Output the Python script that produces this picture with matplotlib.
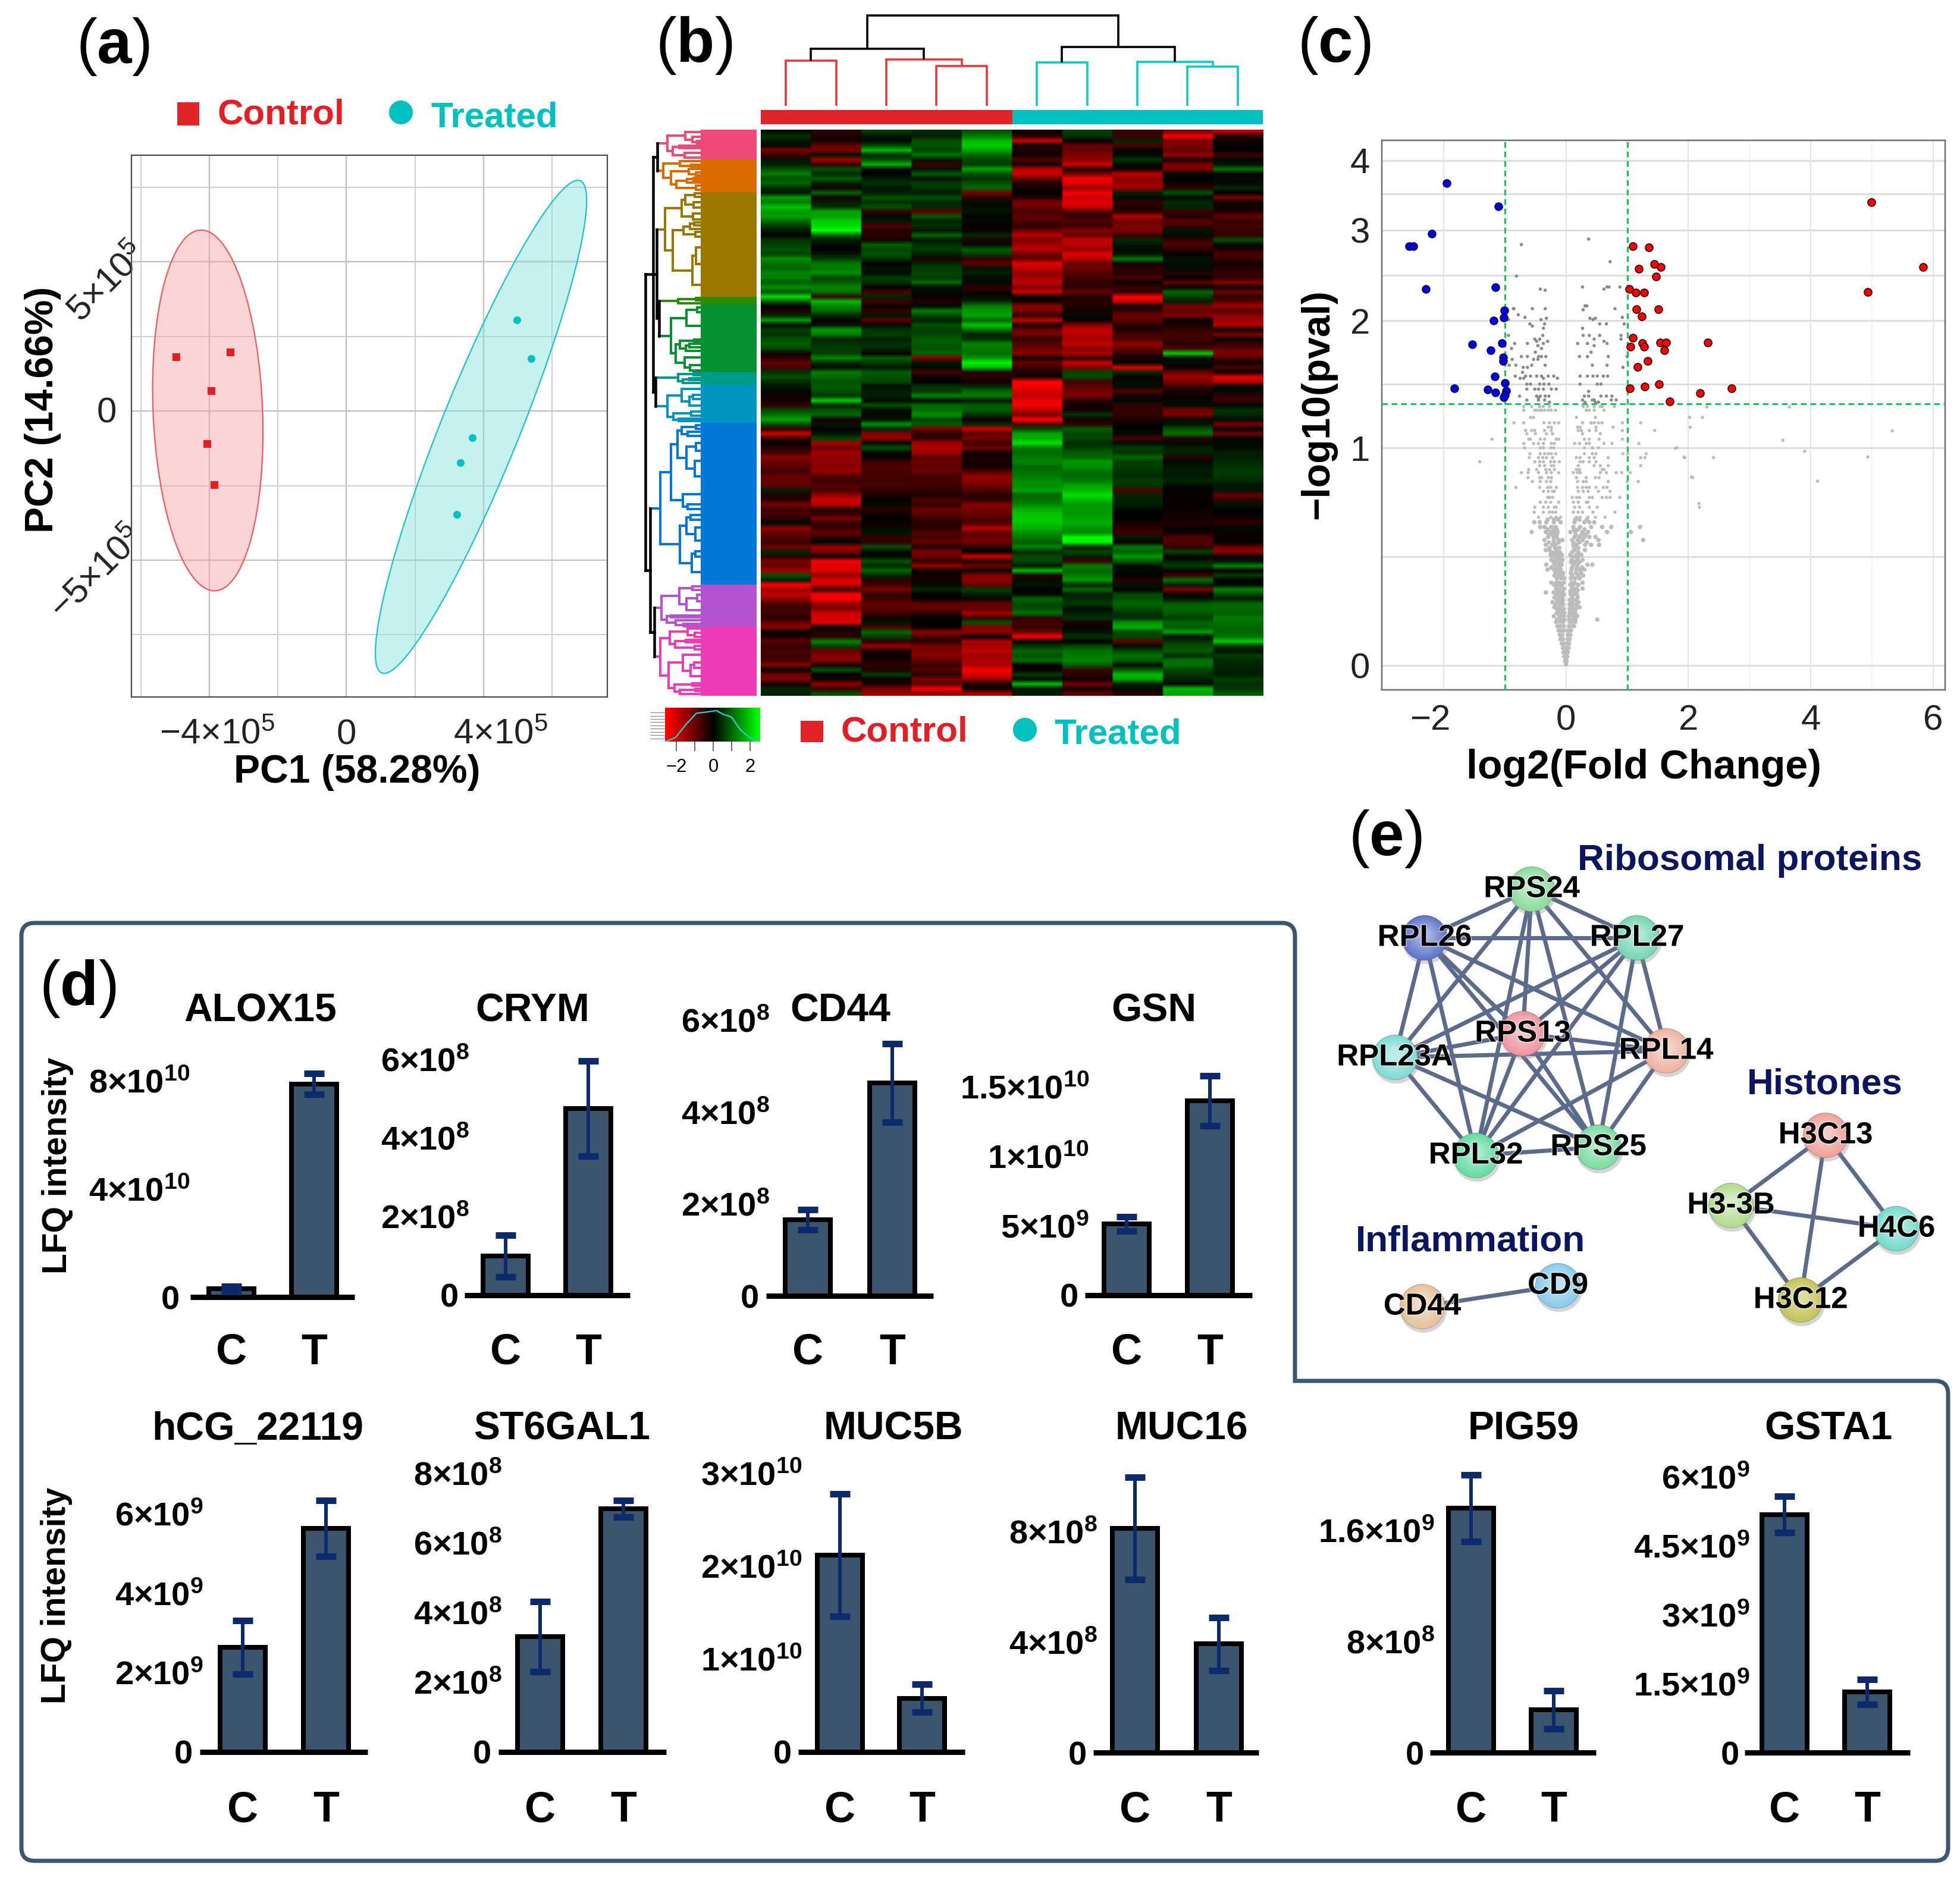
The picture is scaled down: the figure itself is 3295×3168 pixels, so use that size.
import itertools
import numpy as np
import matplotlib
matplotlib.use("Agg")
import matplotlib.pyplot as plt
from matplotlib.colors import LinearSegmentedColormap, to_rgb
from matplotlib.collections import LineCollection
from matplotlib.patches import Rectangle, Circle, PathPatch
from matplotlib.path import Path
from matplotlib.transforms import Affine2D
import matplotlib.patheffects as pe

plt.rcParams['font.family'] = ['Liberation Sans', 'DejaVu Sans']
plt.rcParams['mathtext.fontset'] = 'custom'
plt.rcParams['mathtext.rm'] = 'Liberation Sans'
plt.rcParams['mathtext.bf'] = 'Liberation Sans:bold'
plt.rcParams['mathtext.it'] = 'Liberation Sans:italic'
plt.rcParams['mathtext.default'] = 'regular'

W, H = 3295, 3168
RED, TEAL = '#e31e24', '#00c0c0'
NAVY = '#0b1560'

# ---------- (a) PCA ----------
pca_control_x = [-4.98e5, -3.39e5, -3.96e5, -4.07e5, -3.87e5]
pca_control_y = [1.81e5, 1.98e5, 0.69e5, -1.09e5, -2.46e5]
pca_treated_x = [4.98e5, 5.40e5, 3.68e5, 3.33e5, 3.22e5]
pca_treated_y = [3.06e5, 1.76e5, -0.89e5, -1.74e5, -3.47e5]
ellipse_control = dict(c=(-4.05e5, 0.02e5), a=(-0.195e5, 6.05e5), b=(1.6e5, 0.0))
ellipse_treated = dict(c=(3.93e5, -0.53e5), a=(2.83e5, 8.27e5), b=(1.23e5, 0.0))

# ---------- (b) heatmap: z-scores, green positive, red negative ----------
heatmap_upper = [
 [.1,-.4,.6,.4,.8,-.1,.6,-.5,-1.2,-1.8],[.5,-.3,.2,.3,1.2,-.4,.5,-.6,-2.4,-.4],
 [.2,-.2,.1,.8,1.8,-2,-.1,.4,-1.2,-.1],[.1,-1,.7,.8,2,-.1,-1,-.8,-1.2,-.1],
 [-1.2,-1.2,1.8,.7,1.6,-.3,-1,0,-1,0],[-.6,.2,.4,1.1,1,-.2,-1.2,.1,-1.5,-.6],
 [.2,-1.6,.8,.2,.7,-.8,-1.4,.5,-.2,.1],[.3,-.5,1.7,-.6,.6,-.2,-2,.1,-1.2,.2],
 [.8,.8,.1,.2,1.6,-1.8,-.3,-.2,-1.2,1.1],[1.2,.4,0,.9,.8,-2,-1.2,-1.8,.1,-.1],
 [.8,.9,.3,.2,.5,-1,-2.4,-1.4,0,.1],[1,.3,.5,.6,.8,-.3,-2.2,-1.5,-.2,.1],
 [.4,-.2,.2,.5,1,-.2,-1.5,-1.6,-.4,.4],[.2,1,.3,.3,-1.1,0,-2.4,.3,.8,0],
 [1.5,-.3,.8,.8,-.5,-.3,-2,.1,.1,-1.2],[1.2,.3,.5,.4,.1,-1.2,-2.2,-.5,.4,-.1],
 [1.9,.5,.8,.4,.1,-1,-2,-.3,.4,-.2],[1.5,1.6,-.5,-.9,.2,-.7,-.8,-.4,-.6,-.3],
 [1.6,1.6,.1,.9,0,-.9,-.5,-1.8,-.3,-1],[1,2,.2,.3,.1,-.8,-.8,-1,-.9,-.5],
 [.6,2.1,-.8,.5,-.1,-.4,-.6,-1.2,-.6,-.7],[.2,2.5,-.3,.2,-.1,-1.1,-1.3,-1.2,.2,-.5],
 [-.1,.9,-.4,1,.4,-1.8,-1,-.6,.1,-.5],[.5,.3,-.2,.2,-.3,-1.2,-1.9,.4,-.5,.8],
 [.6,.1,.9,.5,.1,-1.6,-1.8,.2,-.8,.1],[.8,0,.7,.6,.9,-1.8,-1.5,.1,-.4,-.3],
 [.7,.2,.8,.3,.6,-1,-2.2,.2,-.1,-.8],[1.4,.6,.5,-.3,-.5,-1,-1.8,1.2,.2,-.5],
 [1.1,1.2,-.1,.4,-.9,-2.2,-1,-.2,.1,-.2],[1,1.2,.2,.6,.2,-1.9,-1.1,-.4,.1,-.4],
 [1.3,1.4,.1,.7,.3,-1.4,-.8,-.4,-.4,-.5],[1.2,.7,.6,.6,.1,-1.6,-.7,-.7,-.1,-.5],
 [.9,.9,.5,1,.1,-1.9,-.5,-.1,-.9,-1.3],[1.4,1.3,-.1,.1,-.5,-1.2,-.5,-.6,-.1,-.1],
 [.8,1.1,-.7,.1,-.2,-2,-1,-.5,1,-1.1],[2.2,-.6,.4,-.1,.1,-.1,-.3,-2.4,.6,-.4],
 [.9,1.8,-.6,-.3,.4,-.2,-.4,-2,.3,-.9],[0,1.3,-.1,.1,1.2,-1.3,-.3,-.1,-1.2,-1.6],
 [-.3,1,-.5,1.2,1.5,-1.2,-.2,-.6,-1,-.8],[.4,.4,.2,.7,1.6,-.5,.1,-1,-1.2,-1.4],
 [1.5,-.1,-.9,.3,1,-1.9,-.1,-.9,-.1,-1.6],[.1,.2,.1,.8,1.9,-.2,-1.3,-.4,-.3,-1.7],
 [.6,1.5,.5,.6,1.1,-1,-1.9,-.3,-.5,-.2],[.5,1.2,.6,.7,.3,-1.2,-1.8,-.7,-.7,-1.2],
 [.8,.3,.3,.9,.5,-.4,-1.6,-.8,-.6,-.1],[.9,.5,.5,.9,1.3,-.9,-1.9,-1.4,-.4,-.5],
 [.7,.6,.4,.8,1.2,-1,-1.3,-1,-.8,-.9],[-.2,.6,-.1,1,1.1,-1.4,-1.7,-.5,2,-1.3],
 [-.4,1.3,.9,-1.3,1.5,-.2,-.5,-.2,.1,-.7],[-1,.4,.6,.2,2.4,-1,-1.9,.1,.1,-.2],
 [-.7,.1,.2,.1,1.8,-.6,-1.3,-2.2,-.1,-.7],[.5,1.2,.9,-.7,-.4,-.3,.7,.4,-1,-.1],
 [.8,1,.8,-.1,-.4,-.2,.7,-.1,-1.6,-2.2],[.4,.8,.7,-.1,-.2,-2.5,-.7,.1,-1.2,-1.8],
 [.2,.9,.1,.5,.4,-2.4,-.9,.1,-.6,0],[.1,.8,.3,.6,1,-2.1,-1.1,-.8,-.2,.1],
 [-.2,.5,.3,1.3,1.2,-1.9,-1.2,-.2,-.1,-.5],[-.2,2,.1,.1,.2,-2.3,-.4,.1,.1,-.6],
 [-.5,.3,.8,1,.9,-2.4,-.2,-.5,.1,.1],[.7,.8,.1,1.1,.9,-1.8,-.2,-.5,-1.1,.5],
]
heatmap_lower = [
 [1.1,1,.1,1.4,.5,-1.2,.5,-.5,-1.2,.4],[1.6,-.3,.2,.7,-.2,-2.5,-.2,-.3,.1,.1],
 [.8,.2,1.4,.9,.4,-.8,-.5,-.1,.2,-1.2],[-.5,-.1,.4,-1.2,-2,.7,.9,0,.8,-.1],
 [-2,.2,-1.3,-.4,-.8,1.6,.7,.1,1.1,-1.1],[-.5,.7,-1.4,-.5,-1.2,1.7,.7,-.8,-.4,0],
 [-.1,-1.6,.1,-1.6,-.6,2.2,.4,.1,.1,.1],[-.4,-1,.8,-1.7,-1.1,1.2,.6,.6,.3,.1],
 [-.7,-1.6,.1,-1.6,-.2,1,.9,.5,.4,.3],[-1.4,-1.4,-.1,-.9,-.2,1.2,1,1,-.4,.3],
 [-1,-1.4,-.6,-1,-.2,1.3,1.5,.6,.1,.4],[-.9,-1.3,-.8,-.9,-.2,1,1.4,.6,.2,.5],
 [-.6,-1.5,-.7,-1,-.8,1.1,1.1,.5,.3,.6],[-1,-.8,-.7,-.7,-1.4,1.2,1,.4,.2,.5],
 [-1,-.6,-.6,-.7,-1.4,1.4,1.2,.6,.4,.4],[-.9,-.8,-.7,-.6,-1,1.4,1.6,.5,.1,.2],
 [.3,-.7,-.5,-.5,-.8,1.6,1.8,-.8,0,.2],[-.3,-1.4,-.3,-.3,-.4,1,2.2,.4,-.1,-1],
 [-.4,-2,0,-.8,-.5,1.1,1.8,.3,-.1,-.5],[-1.2,-1.8,.1,-.5,-1.3,1.3,1.5,.3,-.1,.2],
 [-.6,-.4,-.4,-1,-1.2,1.7,1.5,.1,-.1,0],[-.7,-.5,-.2,-.9,-1,1.9,1.5,0,-.2,0],
 [-.4,-1.2,0,-.5,-.7,2,1.6,0,-.2,-.3],[.1,-.5,-.2,-.4,-.8,1.9,1.7,-.3,-.3,-.4],
 [-1.4,-.6,.1,-.4,-1.8,1.7,1.4,-.4,-.1,.1],[-1,-1,.2,-.8,-1,1.4,1.4,-.6,-.2,-.1],
 [-.8,-.4,-.5,-.7,-1,1.2,2.5,.2,-.8,-.1],[-.6,.1,-.5,-1,-1.1,.9,2.4,-.1,-.8,0],
 [-1.1,-1.5,.8,-.3,-.4,1.3,.3,1.2,-.5,-1],[.4,-1.2,.1,-1.2,-.1,.4,.7,.9,.7,-1.4],
 [-.4,-.1,.1,-1,-2,.7,.3,1.5,-.1,-.1],[-1.2,-2.4,.8,-.5,-.4,.7,-.6,.9,.3,.2],
 [-1,-2.2,.4,-1.5,-1,.2,1.2,.1,.6,1.3],[-1.6,-2.2,1,-.1,-.2,1.8,1,.1,-.1,-.2],
 [.8,-1.4,.4,-.2,-1.2,-.4,1.2,0,-.6,.6],[.3,-2.2,-.4,-.2,-1.4,.1,1.5,-.4,1.1,0],
 [-2.5,-2,-.6,.1,-1,.2,.4,.2,.3,.1],[-1.6,-.6,-1.2,.4,.6,0,1,0,-1.2,1.3],
 [-1.9,-2.4,-.5,0,.3,.1,.3,.7,-.1,.7],[-1.4,-2.4,-.6,-.1,-.1,1,.4,.8,.2,.3],
 [-.8,-1.5,-1,-.9,-1,.7,.6,1,.9,1],[-.6,-1.2,-.9,-1,-.9,.8,.1,.8,1,1],
 [-.7,-2,-.6,-.4,-1.6,1.1,.3,.5,.9,.9],[-.3,-2.1,-.2,-.1,-.6,-.5,.5,.4,.6,1.2],
 [-1,-2.2,.2,0,.8,-.7,-.3,1.4,1,1.1],[-1.4,.1,-.8,-.1,-1.3,-.5,-.1,1.7,.9,1],
 [0,-.4,1,-1.4,-1.4,-1.1,.2,.7,1.6,1],[-.3,-.4,.6,-.7,-.1,-2.4,.5,.7,.1,1.1],
 [-.9,1.3,-.5,-.4,-1.7,-.1,0,-.9,.5,2],[-.5,.6,-1.5,-1.2,-1.6,.5,.7,.1,.8,.5],
 [-.7,-1,-.3,-1.2,-1.9,1,1.1,.7,.9,.2],[-.6,-1.3,-.1,-1.4,-1.5,.8,1.2,1.1,.4,.6],
 [-.7,-1.3,-.2,-.9,-1.7,1.1,1.3,.9,1.1,.4],[-1.3,-.2,-.5,-.6,-1.7,0,.9,.1,1.1,.4],
 [0,.8,-.3,-.8,-2.4,-.1,-.6,.9,.7,.3],[-1.1,-.1,.6,-.4,-2.1,.6,-.4,1.8,.5,.3],
 [-1.2,-.2,-.1,-1.2,-1.5,.1,-.1,1.6,.3,.6],[-.2,-1.4,-.3,-.9,-.3,1.8,-1.1,.3,.1,.5],
 [.4,-.6,-1.2,-2.4,-.2,.2,-.2,.1,1.8,.5],[.3,.8,-1.5,-1.4,-1.6,.3,-.9,-.4,1.6,.9],
]
# column dendrogram: merge heights
col_pair_heights = dict(c01=76, c34=67, c2_34=78, ctrl=96, c56=73, c89=66, c7_89=74, trt=99, root=152)
key_x = [-2.6, -2.05, -1.52, -.92, -.43, .17, .53, 1.0, 1.49, 1.98, 2.46]
key_density = [0, .13, .51, .88, .91, .96, .85, .76, .36, .13, 0]
cluster_names = ['pink', 'orange', 'gold', 'olive', 'green', 'teal', 'cyan', 'blue', 'purple', 'magenta']
cluster_colors = ['#ee4a78', '#d96b00', '#9a7800', '#2e8b00', '#069030', '#009a8a', '#0094c0', '#0078d8', '#b452d0', '#ec3cb8']
cluster_edges = [218, 268, 323, 499, 512, 626, 647, 711, 983, 1054, 1170]
split_seq = [.35, .5, .28, .6, .42, .3, .55, .7, .25, .48, .62, .38, .33, .58, .45, .66]
step_seq = [14, 30, 9, 22, 12, 26, 8, 18, 33, 11, 20, 7, 15, 24, 10, 28, 13, 6, 19, 16]

# ---------- (c) volcano ----------
blue_x = [-1.954,-1.10,-2.195,-2.565,-2.49,-2.29,-1.15,-1.01,-1.016,-1.18,-1.535,-1.05,-1.236,-1.03,-1.03,-1.165,-.995,-1.826,-1.28,-1.158,-.98,-1.0,-1.016]
blue_y = [3.65,3.32,2.96,2.80,2.80,2.32,2.34,2.10,2.03,2.0,1.78,1.79,1.73,1.67,1.64,1.51,1.46,1.42,1.41,1.385,1.40,1.37,1.35]
red_x = [4.988,5.833,4.93,1.094,1.357,1.44,1.55,1.187,1.47,1.037,1.137,1.272,1.15,1.506,1.236,1.094,1.25,1.535,1.64,2.32,1.05,1.28,1.606,1.336,1.17,1.52,1.286,1.044,2.707,2.19,1.69]
red_y = [3.38,2.56,2.29,2.80,2.79,2.59,2.56,2.54,2.45,2.32,2.28,2.28,2.11,2.11,2.04,1.84,1.79,1.80,1.80,1.80,1.76,1.76,1.73,1.64,1.59,1.45,1.43,1.42,1.42,1.38,1.32]
# grey proteins, keyed by log2(1 + -log10 p); values are log2 fold changes
grey_bands = {
 1.96:[.37],1.935:[-.73],1.856:[.72],1.79:[-.81],1.74:[.27,.70,.67,.88],1.73:[-.42,.62],1.725:[-.34],
 1.653:[.31,.34],1.64:[-.86,-.55,-.34,.80,-.85],1.635:[.28],1.612:[-.78],1.60:[-.67,.92],
 1.596:[-.32,.39,.48],1.59:[-.41,-.94,.44],1.57:[-.59,-.35,.55,.66,.95],1.56:[-.55],1.55:[-.37,.27],
 1.517:[-.94,-.38,.28,.38,.55,.90],1.50:[-.51,-.43,.46,.90],1.49:[-.48,-.30,.62],
 1.48:[-.84,-.63,-.37,.19,.35,.67],1.47:[-.46,.46],1.457:[-.89,-.40],1.44:[-.50,.41],
 1.42:[-.73,-.63,-.45,-.40,-.33,.22,.35,.69,1.0],1.407:[-.88,-.53,-.46],
 1.38:[-.93,-.82,-.56,-.34,.43,.67],1.37:[-.70,-.63,.93],1.347:[-.71],
 1.33:[-.83,-.66,-.58,-.48,-.40,-.29,-.20,.23,.35,.44,.51,.61,.68],1.32:[-.69,-.37,-.14,-.75],
 1.293:[-.64,-.58,-.43,-.36,-.28,.23,.51,.57],1.27:[-.64,-.51,-.45,-.37,-.24,-.16],1.26:[.37],
 1.238:[-.76,-.48,-.42,-.34,-.28,.30,.37,.57,.66,.75],1.23:[-.45],1.22:[-.64,-.45,-.35,.27,.43,.46,.82,.74],
 1.21:[-.27,.31,.48,.53],
 1.19:[-.69,-.56,-.43,-.37,-.27,.28,.35,.46,.56,.59,.79],
 1.173:[-.69,-.51,-.48,-.43,-.40,-.35,-.29,-.24,-.17,.33,.38,.46,.62],
 1.14:[-.58,-.53,.17,.48],
 1.115:[-.85,-.69,-.36,-.27,-.19,-.12,.27,.41,.46,.53,.59,.92,1.22],
 1.095:[-.29,-.24,.19,.23,.49,.77,2.03],
 1.08:[-.66,-.56,-.51,-.35,-.24,.20,.25,.38,.49,.92,1.45],
 1.065:[-.64,-.50,-.32,-.22,.27,.56],
 1.04:[-.61,-.58,-.42,-.35,-.12,-.16,.30,.38,.54,.92,-1.21],
 1.02:[-.69,-.53,-.45,-.37,-.24,-.19,.14,.22,.33,.38,.62,.75,1.19],
 1.0:[-.68,-.42,-.37,-.25,-.20,.30,.43,.53,1.81],
 .973:[-.59,-.42,-.35,-.29,-.24,-.17,.30,.43,.49,.93,1.01,1.31],
 .955:[-.60,-.45,-.38,-.32,-.22,.17,.23,.38,.46,.69,1.22,1.29,1.94],
 .936:[-.51,-.43,-.37,-.25,-.19,-.11,.23,.28,.38,.49,-1.41],
 .918:[-.43,-.35,-.24,-.20,.20,.46,.56,.69,1.22],
 .90:[-.61,-.48,-.33,-.27,-.19,.17,.22,.59,.62],
 .886:[-.73,-.62,-.45,-.32,-.24,-.12,.12,.19,.23,.56,.66,.82,.91,1.05],
 .863:[-.62,-.43,-.40,-.29,-.24,.17,.48,.54,.33,2.07],
 .845:[-.55,-.42,-.32,-.25,.19,.28,.33,.69,1.0,1.18],
 .818:[-.82,-.43,-.30,-.25,-.16,.19,.27,.33,.38,.49,.61,.67],
 .80:[-.37,-.29,-.22,-.19,.20,.28,.36,.53,.72],
 .772:[-.30,-.27,-.22,.10,.17,.22,.38,.43,.59,.66,.72,.88],
 .75:[-.42,-.33,-.25,-.12,.12,.20,.36,.33],
 .727:[-.51,-.37,-.29,-.19,-.16,.14,.22,.38,.51,2.18],
 .704:[-.52,-.37,-.27,-.22,-.17,.12,.20,.27,.44,.80],
 .681:[-.45,-.25,-.16,-.09,.17,.23,.36,.48,.64],
 .67:[-.30,-.20,-.13,.15,.22,.34],
 .658:[-.52,-.43,-.32,-.20,-.09,.14,.30,.38,.46],
 .636:[-.42,-.35,-.24,-.17,.12,.23,.41,.59,.74,1.21],
 .625:[-.30,-.20,-.15,.13,.20,.30],
 .613:[-.56,-.33,-.25,-.19,-.14,.07,.15,.27,.36,.67,1.06],
 .60:[-.28,-.22,-.15,.16,.25,.32],
 .59:[-.29,-.20,-.16,.14,.22,.30,.38,.48],
 .576:[-.35,-.20,-.12,-.06,.10,.19,.27,.53,1.26],
 .565:[-.28,-.20,-.12,.12,.22,.34],
 .554:[-.33,-.22,-.17,.12,.17,.31,.41,.54],
 .54:[-.27,-.18,-.11,.13,.20],
 .53:[-.33,-.27,-.16,.14,.31],
 .52:[-.24,-.17,-.10,.10,.20],
 .508:[-.25,-.20,-.14,-.07,.07,.17,.25],
 .50:[-.22,-.15,-.09,.09,.15,.20],
 .485:[-.24,-.17,-.12,-.06,.10,.19,.27],
 .475:[-.20,-.13,-.08,.08,.15,.22],
 .463:[-.32,-.19,-.12,-.07,.12,.19,.35,.43],
 .45:[-.24,-.16,-.10,.10,.18,.26],
 .44:[-.30,-.20,-.14,-.09,.09,.17,.23,.30],
 .425:[-.17,-.10,-.05,.08,.16,.24],
 .413:[-.19,-.12,-.06,.10,.20,.28],
 .40:[-.15,-.08,-.03,.08,.15,.22],
 .38:[-.24,-.16,-.11,-.04,.10,.14,.27],
 .37:[-.19,-.13,-.07,.07,.12,.20],
 .353:[-.16,-.09,-.04,.10,.17,.27],
 .345:[-.14,-.10,-.05,.08,.14,.19],
 .335:[-.33,-.20,-.12,-.06,.07,.15],
 .325:[-.15,-.08,-.04,.08,.12,.18],
 .312:[-.19,-.11,-.06,.10,.19],
 .30:[-.15,-.09,-.05,.06,.12,.16],
 .29:[-.22,-.12,-.07,.09,.20],
 .28:[-.17,-.10,-.05,.06,.12,.17],
 .267:[-.19,-.11,.10,.22],
 .26:[-.15,-.08,-.04,.06,.12,.16],
 .25:[-.12,-.06,.07,.14],
 .24:[-.15,-.08,-.03,.06,.10,.15],
 .226:[-.20,-.11,-.04,.05,.12,.18],
 .21:[-.15,-.08,-.03,.05,.10,.15,.51],
 .20:[-.16,-.10,-.05,.06,.10,.15],
 .18:[-.14,-.09,-.04,.05,.09,.13],
 .16:[-.12,-.07,-.03,.04,.08],
 .14:[-.10,-.06,.03,.07],
 .12:[-.09,-.05,.03,.06],
 .10:[-.07,-.04,.02,.05],
 .08:[-.05,-.03,.02,.04],
 .06:[-.04,-.02,.015,.03],
 .04:[-.03,-.01,.01,.02],
 .02:[-.015,.01],
 .005:[0],
}
grey_far_x = [3.65,3.545,3.9,4.93,4.11,5.33,2.41,2.3,2.02,2.23,2.17,2.05,1.93,1.79]
grey_far_t = [1.188,1.035,.984,.958,.847,1.078,.955,1.188,1.14,1.14,.744,.866,.958,.998]

# ---------- (d) bars ----------
top_names = ['ALOX15', 'CRYM', 'CD44', 'GSN']
top_means = [[.3e10, 7.9e10], [1.0e8, 4.76e8], [1.66e8, 4.64e8], [.515e10, 1.40e10]]
top_errs = [[.1e10, .38e10], [.53e8, 1.21e8], [.22e8, .86e8], [.05e10, .18e10]]
top_ticks = [[0, 4e10, 8e10], [0, 2e8, 4e8, 6e8], [0, 2e8, 4e8, 6e8], [0, 5e9, 1e10, 1.5e10]]
top_ticklabels = [['0', r'$4{\times}10^{10}$', r'$8{\times}10^{10}$'],
                  ['0', r'$2{\times}10^{8}$', r'$4{\times}10^{8}$', r'$6{\times}10^{8}$'],
                  ['0', r'$2{\times}10^{8}$', r'$4{\times}10^{8}$', r'$6{\times}10^{8}$'],
                  ['0', r'$5{\times}10^{9}$', r'$1{\times}10^{10}$', r'$1.5{\times}10^{10}$']]
bottom_names = ['hCG_22119', 'ST6GAL1', 'MUC5B', 'MUC16', 'PIG59', 'GSTA1']
bottom_means = [[2.64e9, 5.64e9], [3.31e8, 6.98e8], [2.12e10, .58e10], [8.1e8, 3.93e8], [1.764e9, .309e9], [5.19e9, 1.32e9]]
bottom_errs = [[.68e9, .7e9], [1.0e8, .24e8], [.66e10, .15e10], [1.85e8, .96e8], [.24e9, .138e9], [.39e9, .27e9]]
bottom_ticks = [[0, 2e9, 4e9, 6e9], [0, 2e8, 4e8, 6e8, 8e8], [0, 1e10, 2e10, 3e10], [0, 4e8, 8e8], [0, 8e8, 1.6e9], [0, 1.5e9, 3e9, 4.5e9, 6e9]]
bottom_ticklabels = [['0', r'$2{\times}10^{9}$', r'$4{\times}10^{9}$', r'$6{\times}10^{9}$'],
                     ['0', r'$2{\times}10^{8}$', r'$4{\times}10^{8}$', r'$6{\times}10^{8}$', r'$8{\times}10^{8}$'],
                     ['0', r'$1{\times}10^{10}$', r'$2{\times}10^{10}$', r'$3{\times}10^{10}$'],
                     ['0', r'$4{\times}10^{8}$', r'$8{\times}10^{8}$'],
                     ['0', r'$8{\times}10^{8}$', r'$1.6{\times}10^{9}$'],
                     ['0', r'$1.5{\times}10^{9}$', r'$3{\times}10^{9}$', r'$4.5{\times}10^{9}$', r'$6{\times}10^{9}$']]
bar_groups = ['C', 'T']

# ---------- (e) networks ----------
ribosomal = ['RPS24', 'RPL26', 'RPL27', 'RPS13', 'RPL23A', 'RPL14', 'RPL32', 'RPS25']
histones = ['H3C13', 'H3-3B', 'H4C6', 'H3C12']
inflammation = ['CD44', 'CD9']
node_pos = {'RPS24': (2575, 1495), 'RPL26': (2395, 1577), 'RPL27': (2752, 1577), 'RPS13': (2560, 1738),
            'RPL23A': (2345, 1778), 'RPL14': (2801, 1767), 'RPL32': (2481, 1943), 'RPS25': (2687, 1929),
            'H3C13': (3069, 1909), 'H3-3B': (2910, 2027), 'H4C6': (3188, 2066), 'H3C12': (3027, 2186),
            'CD44': (2391, 2197), 'CD9': (2619, 2162)}
node_color = {'RPS24': '#8fdca0', 'RPL26': '#6478cc', 'RPL27': '#78d8b4', 'RPS13': '#ee98a4',
              'RPL23A': '#84dcd4', 'RPL14': '#eeb4a4', 'RPL32': '#68dca4', 'RPS25': '#80dca4',
              'H3C13': '#eea49c', 'H3-3B': '#b4dc94', 'H4C6': '#78dccc', 'H3C12': '#c4c45c',
              'CD44': '#e4c49c', 'CD9': '#8ccCec'}

# ---------- helpers ----------
fig = plt.figure(figsize=(W / 100, H / 100), dpi=100, facecolor='white')


def pt(px):
    return px * 0.72


def px_axes(l, t, r, b, **kw):
    return fig.add_axes([l / W, 1 - b / H, (r - l) / W, (b - t) / H], **kw)


def shift(label, dx, dy):
    label.set_transform(label.get_transform() + Affine2D().translate(dx, dy))


canvas = fig.add_axes([0, 0, 1, 1], zorder=0)
canvas.set_xlim(0, W)
canvas.set_ylim(H, 0)
canvas.axis('off')

for letter, cx, cy in [('a', 190, 79), ('b', 1167, 76), ('c', 2243, 76), ('d', 131, 1662), ('e', 2329, 1411)]:
    canvas.text(cx, cy, r'($\mathbf{%s}$)' % letter, fontsize=pt(105), ha='center', va='center', color='black')


def legend(sq, circ, ctrl_xy, trt_xy):
    canvas.add_patch(Rectangle((sq[0], sq[1]), sq[2], sq[3], color='#e02428', lw=0))
    canvas.add_patch(Circle(circ[:2], circ[2], color=TEAL, lw=0))
    canvas.text(*ctrl_xy, 'Control', color=RED, fontweight='bold', fontsize=pt(60), va='center', ha='left')
    canvas.text(*trt_xy, 'Treated', color=TEAL, fontweight='bold', fontsize=pt(60), va='center', ha='left')


legend((298, 172, 37, 39), (674, 189, 20), (365, 193), (724, 198))
legend((1346, 1212, 38, 36), (1723, 1227, 20), (1413, 1231), (1772, 1235))

# ---------- panel a ----------
ax = px_axes(221, 261, 1021, 1172)
ax.set_xlim(-6.28e5, 7.62e5)
ax.set_ylim(-9.59e5, 8.58e5)
ax.set_xticks([-4e5, 0, 4e5])
ax.set_xticklabels([r'$-4{\times}10^{5}$', '0', r'$4{\times}10^{5}$'], fontsize=pt(60), color='#222222')
ax.set_yticks([-5e5, 0, 5e5])
ax.set_yticklabels([r'$-5{\times}10^{5}$', '0', r'$5{\times}10^{5}$'], fontsize=pt(60), color='#222222', rotation=45, va='center', ha='right')
ax.set_xticks([-6e5, -2e5, 2e5, 6e5], minor=True)
ax.set_yticks([-7.5e5, -2.5e5, 2.5e5, 7.5e5], minor=True)
ax.tick_params(which='both', length=0)
ax.tick_params(axis='x', pad=pt(36))
ax.tick_params(axis='y', pad=pt(2))
ax.grid(True, which='major', color='#c4c4c4', lw=pt(2.5))
ax.grid(True, which='minor', color='#d0d0d0', lw=pt(2))
ax.set_axisbelow(True)
for sp in ax.spines.values():
    sp.set_linewidth(pt(2.2))
    sp.set_color('#4a4a4a')
for e, fc, ec in [(ellipse_control, '#f8a0a4', '#ee5a60'), (ellipse_treated, '#80e0dc', '#18c4c4')]:
    tr = Affine2D.from_values(e['a'][0], e['a'][1], e['b'][0], e['b'][1], e['c'][0], e['c'][1]) + ax.transData
    ax.add_patch(Circle((0, 0), 1, transform=tr, facecolor=fc, edgecolor='none', alpha=.45, zorder=2))
    ax.add_patch(Circle((0, 0), 1, transform=tr, facecolor='none', edgecolor=ec, lw=pt(2.2), zorder=3))
ax.scatter(pca_control_x, pca_control_y, marker='s', s=pt(13) ** 2, color=RED, lw=0, zorder=4)
ax.scatter(pca_treated_x, pca_treated_y, marker='o', s=pt(13) ** 2, color=TEAL, lw=0, zorder=4)
ax.set_xlabel('PC1 (58.28%)', fontweight='bold', fontsize=pt(66), va='center')
ax.set_ylabel('PC2 (14.66%)', fontweight='bold', fontsize=pt(66), va='center')
ax.xaxis.set_label_coords((600 - 221) / 800, (1172 - 1299) / 911)
ax.yaxis.set_label_coords((72 - 221) / 800, (1172 - 689) / 911)
fig.canvas.draw()
xl = ax.get_xticklabels()
yl = ax.get_yticklabels()
shift(xl[0], 13, 0)
shift(xl[2], 29, 0)
shift(yl[0], 33, -23)
yl[1].set_rotation(0)
shift(yl[1], -23, -4)
shift(yl[2], 38, -36)

# ---------- panel b ----------
ax = px_axes(1279, 218, 2123, 1170)
matrix = np.array(heatmap_upper + heatmap_lower)
rg = LinearSegmentedColormap.from_list('rkg', ['#ff0000', '#000000', '#00ff00'])
ax.imshow(np.repeat(matrix, 30, axis=1), cmap=rg, vmin=-2.5, vmax=2.5, aspect='auto', interpolation='bilinear')
ax.axis('off')

canvas.add_patch(Rectangle((1279, 185), 423, 24, color='#e02428', lw=0))
canvas.add_patch(Rectangle((1702, 185), 421, 24, color=TEAL, lw=0))

ax = px_axes(1279, 0, 2123, 178)
ax.set_xlim(-.5, 9.5)
ax.set_ylim(0, 178)
ax.axis('off')
ax.patch.set_alpha(0)
h = col_pair_heights


def u(x0, x1, y, y0, y1, c):
    ax.plot([x0, x0, x1, x1], [y0, y, y, y1], color=c, lw=pt(3.6), solid_joinstyle='miter', solid_capstyle='butt')


CR, CT = '#e8383c', '#10c8c8'
u(0, 1, h['c01'], 0, 0, CR)
u(3, 4, h['c34'], 0, 0, CR)
u(2, 3.5, h['c2_34'], 0, h['c34'], CR)
u(.5, 2.75, h['ctrl'], h['c01'], h['c2_34'], 'black')
u(5, 6, h['c56'], 0, 0, CT)
u(8, 9, h['c89'], 0, 0, CT)
u(7, 8.5, h['c7_89'], 0, h['c89'], CT)
u(5.5, 7.75, h['trt'], h['c56'], h['c7_89'], 'black')
u(1.625, 6.625, h['root'], h['ctrl'], h['trt'], 'black')

# row dendrogram
segs = {c: [] for c in cluster_colors}
segs['black'] = []
seq = {'s': 0, 'd': 0}


def next_split():
    seq['s'] += 1
    return split_seq[seq['s'] % len(split_seq)]


def next_step():
    seq['d'] += 1
    return step_seq[seq['d'] % len(step_seq)]


def grow(y0, y1, x, c):
    if y1 - y0 < 7 or x > 1172:
        m = (y0 + y1) / 2
        segs[c].append([(x, m), (1192, m)])
        return m
    ym = y0 + (y1 - y0) * next_split()
    xa, xb = x + next_step(), x + next_step()
    ca = grow(y0, ym, xa, c)
    cb = grow(ym, y1, xb, c)
    segs[c].append([(x, ca), (x, cb)])
    segs[c].append([(x, ca), (xa, ca)])
    segs[c].append([(x, cb), (xb, cb)])
    return (ca + cb) / 2


def join(x, kids):
    ys = [k[0] for k in kids]
    segs['black'].append([(x, min(ys)), (x, max(ys))])
    for y, cx, col in kids:
        segs[col].append([(x, y), (cx, y)])
    return (min(ys) + max(ys)) / 2


for i, col in enumerate(cluster_colors):
    canvas.add_patch(Rectangle((1178, cluster_edges[i]), 1272 - 1178, cluster_edges[i + 1] - cluster_edges[i], color=col, lw=0))
roots = [1122, 1115, 1118, 1140, 1128, 1140, 1122, 1110, 1112, 1110]
centers = [grow(cluster_edges[i], cluster_edges[i + 1], roots[i], cluster_colors[i]) for i in range(10)]
kid = [(centers[i], roots[i], cluster_colors[i]) for i in range(10)]
A = join(1105, [kid[0], kid[1]])
OG = join(1108, [kid[3], kid[4]])
GG = join(1104, [kid[2], (OG, 1108, cluster_colors[3])])
TC = join(1102, [kid[5], kid[6]])
UP = join(1098, [(A, 1105, 'black'), (GG, 1104, 'black'), (TC, 1102, 'black')])
PM = join(1100, [kid[8], kid[9]])
LOW = join(1093, [kid[7], (PM, 1100, 'black')])
join(1085, [(UP, 1098, 'black'), (LOW, 1093, 'black')])
for col, lines in segs.items():
    canvas.add_collection(LineCollection(lines, colors=col, linewidths=pt(4) if col != 'black' else pt(4.5), capstyle='projecting'))

# colour key
ax = px_axes(1118, 1190, 1277, 1247)
ax.imshow(np.array([[-2.63 + i * 5.16 / 199 for i in range(200)]]), cmap=rg, vmin=-2.5, vmax=2.5, aspect='auto',
          extent=(-2.63, 2.53, 0, 1.05))
ax.plot(key_x, key_density, color='#30c8c8', lw=pt(2.4))
ax.set_xlim(-2.63, 2.53)
ax.set_ylim(0, 1.05)
ax.set_xticks([-2, -1, 0, 1, 2])
ax.set_xticklabels(['\u22122', '', '0', '', '2'], fontsize=pt(31))
ax.set_yticks([.1, .2, .3, .4, .5, .6, .7, .8, .9])
ax.set_yticklabels([])
ax.tick_params(axis='x', length=pt(16), width=pt(1.6), color='#444444', pad=pt(12))
ax.tick_params(axis='y', length=pt(25), width=pt(1.2), color='#888888')
for s in ax.spines.values():
    s.set_visible(False)

# ---------- panel c ----------
ax = px_axes(2323, 236, 3270, 1160)
ax.set_yscale('function', functions=(lambda y: np.log2(1 + np.maximum(y, -.9)), lambda t: 2.0 ** t - 1))
ax.set_xlim(-3.01, 6.195)
ax.set_ylim(-.0753, 4.33)
ax.set_xticks([-2, 0, 2, 4, 6])
ax.set_xticklabels(['\u22122', '0', '2', '4', '6'], fontsize=pt(60), color='#222222')
ax.set_yticks([0, 1, 2, 3, 4])
ax.set_yticklabels(['0', '1', '2', '3', '4'], fontsize=pt(60), color='#222222')
ax.set_xticks([-1, 1, 3, 5], minor=True)
ax.set_yticks([.414, 1.449, 2.464, 3.49], minor=True)
ax.set_yticklabels([], minor=True)
ax.tick_params(which='both', length=0)
ax.tick_params(axis='x', pad=pt(24))
ax.tick_params(axis='y', pad=pt(20))
ax.grid(True, axis='y', which='both', color='#dedede', lw=pt(3))
ax.grid(True, axis='x', which='major', color='#e4e4e4', lw=pt(2))
ax.grid(True, axis='x', which='minor', color='#efefef', lw=pt(1.5))
ax.set_axisbelow(True)
for sp in ax.spines.values():
    sp.set_linewidth(pt(2.5))
    sp.set_color('#6e6e6e')
gx = [x for t, xs in grey_bands.items() for x in xs] + grey_far_x
gt = np.array([t for t, xs in grey_bands.items() for x in xs] + grey_far_t)
gy = 2.0 ** gt - 1
gc = np.where(gy >= 1.3, '#8a8a8a', '#bcbcbc')
gs = np.where(gy >= .6, pt(5.5) ** 2, pt(7.5) ** 2)
ax.scatter(gx, gy, s=gs, c=gc.tolist(), lw=0, zorder=2)
ax.axhline(1.3, color='#1fc060', lw=pt(3.2), ls=(0, (3, 2)), zorder=3)
ax.axvline(-1, color='#1fc060', lw=pt(3.2), ls=(0, (3, 2)), zorder=3)
ax.axvline(1, color='#1fc060', lw=pt(3.2), ls=(0, (3, 2)), zorder=3)
ax.scatter(blue_x, blue_y, s=pt(13) ** 2, color='#0000e6', edgecolor='#101040', lw=pt(1.6), zorder=4)
ax.scatter(red_x, red_y, s=pt(13) ** 2, color='#ff0000', edgecolor='#200000', lw=pt(1.6), zorder=4)
ax.set_xlabel('log2(Fold Change)', fontweight='bold', fontsize=pt(68), va='center')
ax.set_ylabel('\u2212log10(pval)', fontweight='bold', fontsize=pt(66), va='center')
ax.xaxis.set_label_coords((2763 - 2323) / 947, (1160 - 1291) / 924)
ax.yaxis.set_label_coords((2216 - 2323) / 947, (1160 - 680) / 924)
fig.canvas.draw()
shift(ax.get_xticklabels()[0], -23, 0)

# ---------- panel d ----------
BAR_FILL, ERR = '#3c556f', '#0c2a6c'


def bars(name, means, errs, ticks, labels, L, R, xc, xt, base, top_tick_px, tick_right, title_x, title_y, label_y):
    top_val = ticks[-1]
    span = base - top_tick_px
    top_px = base - span * 1.35
    a = px_axes(L, top_px, R, base)
    unit = xt - xc
    a.set_xlim((L - xc) / unit, (R - xc) / unit)
    a.set_ylim(0, top_val * 1.35)
    a.patch.set_alpha(0)
    a.bar([0, 1], means, width=76 / unit, color=BAR_FILL, edgecolor='black', lw=pt(8), zorder=2)
    a.errorbar([0, 1], means, yerr=errs, fmt='none', ecolor=ERR, elinewidth=pt(6), capsize=pt(17), capthick=pt(11), zorder=3)
    a.set_xticks([0, 1])
    a.set_xticklabels(bar_groups, fontsize=pt(72), fontweight='bold', va='center')
    a.set_yticks(ticks)
    a.set_yticklabels(labels, fontsize=pt(56), fontweight='bold')
    a.tick_params(axis='x', length=0, pad=pt(label_y - base))
    a.tick_params(axis='y', length=0, pad=pt(L - tick_right))
    for s in ['top', 'left', 'right']:
        a.spines[s].set_visible(False)
    a.spines['bottom'].set_linewidth(pt(9))
    a.spines['bottom'].set_capstyle('butt')
    a.set_title(name, fontsize=pt(66), fontweight='bold', x=(title_x - L) / (R - L),
                y=(base - title_y) / (base - top_px), va='center')
    fig.canvas.draw()
    shift(a.get_yticklabels()[0], -18, 0)


top_layout = [(320, 596, 389, 528, 2181, 1818, 320, 438), (781, 1059, 850, 989, 2178, 1782, 789, 895),
              (1288, 1569, 1358, 1500, 2179, 1716, 1294, 1413), (1824, 2105, 1894, 2034, 2178, 1828, 1831, 1940)]
for i, lay in enumerate(top_layout):
    bars(top_names[i], top_means[i], top_errs[i], top_ticks[i], top_ticklabels[i], *lay, 1709, 2275)
bottom_layout = [(336, 618, 408, 548, 2946, 2546, 342, 433), (838, 1120, 908, 1048, 2946, 2477, 844, 945),
                 (1342, 1622, 1412, 1550, 2946, 2478, 1349, 1502), (1838, 2116, 1908, 2049, 2947, 2575, 1845, 1986),
                 (2404, 2683, 2473, 2612, 2947, 2574, 2412, 2561), (2933, 3211, 3000, 3139, 2947, 2484, 2942, 3074)]
for i, lay in enumerate(bottom_layout):
    bars(bottom_names[i], bottom_means[i], bottom_errs[i], bottom_ticks[i], bottom_ticklabels[i], *lay, 2412, 3044)

canvas.text(97, 1960, 'LFQ intensity', rotation=90, fontweight='bold', fontsize=pt(57), ha='center', va='center')
canvas.text(95, 2683, 'LFQ intensity', rotation=90, fontweight='bold', fontsize=pt(57), ha='center', va='center')

# frame around (d)
r = 22
fl, ft, fm, fs, fr, fb = 36, 1552, 2177, 2322, 3275, 3129
verts = [(fl + r, ft), (fm - r, ft), (fm, ft), (fm, ft + r), (fm, fs), (fr - r, fs), (fr, fs), (fr, fs + r),
         (fr, fb - r), (fr, fb), (fr - r, fb), (fl + r, fb), (fl, fb), (fl, fb - r), (fl, ft + r), (fl, ft), (fl + r, ft)]
codes = [Path.MOVETO, Path.LINETO, Path.CURVE3, Path.CURVE3, Path.LINETO, Path.LINETO, Path.CURVE3, Path.CURVE3,
         Path.LINETO, Path.CURVE3, Path.CURVE3, Path.LINETO, Path.CURVE3, Path.CURVE3, Path.LINETO, Path.CURVE3, Path.CURVE3]
canvas.add_patch(PathPatch(Path(verts, codes), facecolor='none', edgecolor='#3b5573', lw=pt(7)))

# ---------- panel e ----------
for group in (ribosomal, histones, inflammation):
    for p, q in itertools.combinations(group, 2):
        (x0, y0), (x1, y1) = node_pos[p], node_pos[q]
        canvas.plot([x0, x1], [y0, y1], color='#5c6a8c', lw=pt(7), zorder=2, solid_capstyle='butt')
for n, (x, y) in node_pos.items():
    base = np.array(to_rgb(node_color[n]))
    canvas.add_patch(Circle((x + 2, y + 4), 40, color='#888888', alpha=.35, lw=0, zorder=3))
    canvas.add_patch(Circle((x, y), 38, color=base * .8, lw=0, zorder=3))
    for k in range(9):
        f = k / 9
        canvas.add_patch(Circle((x, y - f * 6), 37 * (1 - f * .85), color=base * (1 - f * .5) + f * .5, lw=0, zorder=3))
    canvas.text(x, y, n, fontsize=pt(51), fontweight='bold', ha='center', va='center', zorder=5,
                path_effects=[pe.withStroke(linewidth=pt(3), foreground='white', alpha=.6)])
canvas.text(2942, 1447, 'Ribosomal proteins', color=NAVY, fontweight='bold', fontsize=pt(62), ha='center', va='center')
canvas.text(3068, 1824, 'Histones', color=NAVY, fontweight='bold', fontsize=pt(62), ha='center', va='center')
canvas.text(2472, 2088, 'Inflammation', color=NAVY, fontweight='bold', fontsize=pt(62), ha='center', va='center')

fig.savefig('out.png', dpi=100, facecolor='white')
